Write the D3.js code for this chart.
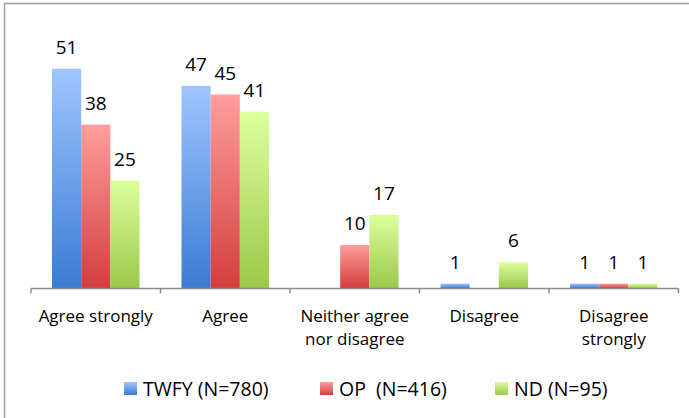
<!DOCTYPE html>
<html><head><meta charset="utf-8">
<script src="https://cdn.jsdelivr.net/npm/d3@7"></script>
<style>
html,body{margin:0;padding:0;background:#fff;}
svg{display:block;font-family:"Open Sans","Liberation Sans",sans-serif;}
</style></head>
<body>
<svg id="chart" width="689" height="418"></svg>
<script>
const categories = ["Agree strongly", "Agree", "Neither agree\nnor disagree", "Disagree", "Disagree\nstrongly"];
const seriesNames = ["TWFY (N=780)", "OP  (N=416)", "ND (N=95)"];
const twfy = [51, 47, null, 1, 1];
const op = [38, 45, 10, null, 1];
const nd = [25, 41, 17, 6, 1];
const seriesValues = [twfy, op, nd];
const yDomain = [0, 60];

const colors = [
  {top:"#a0c5ff", bottom:"#3a7cd3"},
  {top:"#ff9e9e", bottom:"#d43d3d"},
  {top:"#ddff9e", bottom:"#9bc84a"}
];

const svg = d3.select("#chart");
const W = 689, H = 418;

// border
svg.append("rect").attr("x",4.5).attr("y",3.5).attr("width",W+10).attr("height",H+10)
  .attr("fill","none").attr("stroke","#a0a0a0").attr("stroke-width",1.5);

const defs = svg.append("defs");
colors.forEach((c,i)=>{
  const g = defs.append("linearGradient").attr("id","g"+i).attr("x1",0).attr("y1",0).attr("x2",0).attr("y2",1);
  g.append("stop").attr("offset","0%").attr("stop-color",c.top);
  g.append("stop").attr("offset","100%").attr("stop-color",c.bottom);
});

const x = d3.scaleBand().domain(d3.range(categories.length)).range([31, 678.5]).paddingInner(0).paddingOuter(0);
const xs = d3.scaleBand().domain(d3.range(seriesNames.length)).range([21, x.bandwidth()-21]).padding(0);
const y = d3.scaleLinear().domain(yDomain).range([288, 30]);

// bars
const groups = svg.append("g").selectAll("g").data(categories).join("g")
  .attr("transform",(d,i)=>`translate(${x(i)},0)`);

seriesValues.forEach((vals,s)=>{
  groups.each(function(d,i){
    const v = vals[i];
    if (v == null) return;
    const g = d3.select(this);
    g.append("rect")
      .attr("x", xs(s)).attr("width", xs.bandwidth())
      .attr("y", y(v)).attr("height", y(0)-y(v))
      .attr("fill", `url(#g${s})`);
    g.append("text")
      .attr("x", xs(s)+xs.bandwidth()/2).attr("y", y(v)-15)
      .attr("text-anchor","middle").attr("font-size",19).attr("fill","#000")
      .text(v);
  });
});

// axis
const axisG = svg.append("g").attr("transform","translate(0,288.5)");
axisG.append("line").attr("x1",31).attr("x2",678.5).attr("stroke","#8c8c8c").attr("stroke-width",1.5);
const tickPos = d3.range(categories.length+1).map(i => i<categories.length ? x(i) : x(categories.length-1)+x.bandwidth());
axisG.selectAll("line.tk").data(tickPos).join("line").attr("class","tk")
  .attr("x1",d=>d).attr("x2",d=>d).attr("y1",0).attr("y2",5)
  .attr("stroke","#8c8c8c").attr("stroke-width",1.5);

// category labels
const lab = svg.append("g").selectAll("text").data(categories).join("text")
  .attr("text-anchor","middle").attr("font-size",17).attr("fill","#000")
  .attr("transform",(d,i)=>`translate(${x(i)+x.bandwidth()/2},322)`);
lab.each(function(d){
  const t = d3.select(this);
  d.split("\n").forEach((line,k)=>{
    t.append("tspan").attr("x",0).attr("dy", k===0?0:23).text(line);
  });
});

// legend
const legendX = [124, 320, 495];
const leg = svg.append("g").selectAll("g").data(seriesNames).join("g")
  .attr("transform",(d,i)=>`translate(${legendX[i]},382)`);
leg.append("rect").attr("width",13).attr("height",13).attr("fill",(d,i)=>`url(#g${i})`);
leg.append("text").attr("x",19).attr("y",13.5).attr("font-size",19.5).attr("fill","#000")
  .style("white-space","pre").text(d=>d);
</script>
</body></html>
